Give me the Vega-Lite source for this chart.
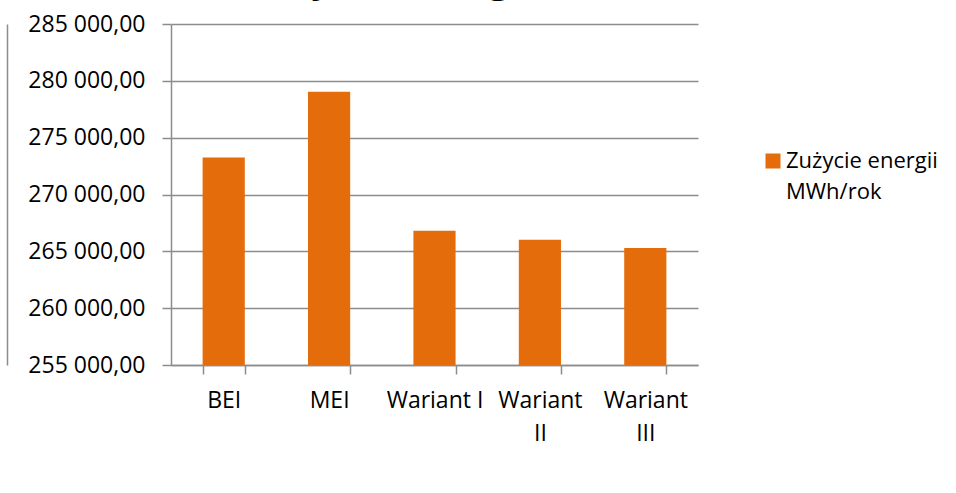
{
  "$schema": "https://vega.github.io/schema/vega-lite/v6.json",
  "width": 527,
  "height": 341,
  "autosize": {"type": "none"},
  "padding": {"left": 171, "top": 24, "right": 258, "bottom": 128},
  "background": "white",
  "config": {
    "locale": {"number": {"decimal": ",", "thousands": " ", "grouping": [3], "currency": ["", " zł"]}},
    "font": "Open Sans",
    "view": {"stroke": null},
    "style": {"guide-label": {"lineHeight": 31}},
    "axis": {
      "labelFont": "Open Sans",
      "labelFontSize": 23,
      "labelColor": "#000000",
      "domainColor": "#8c8c8c",
      "domainWidth": 1.5,
      "tickColor": "#8c8c8c",
      "tickWidth": 1.5,
      "gridColor": "#8c8c8c",
      "gridWidth": 1.5
    }
  },
  "title": {
    "text": "Zużycie energii",
    "font": "Open Sans",
    "fontSize": 39,
    "fontWeight": "bold",
    "color": "#000000",
    "anchor": "start",
    "dx": 237,
    "dy": 17.5,
    "offset": 0,
    "baseline": "alphabetic"
  },
  "data": {
    "values": [
      {"scenariusz": "BEI", "zuzycie": 273250, "seria": "Zużycie energii MWh/rok"},
      {"scenariusz": "MEI", "zuzycie": 279050, "seria": "Zużycie energii MWh/rok"},
      {"scenariusz": "Wariant I", "zuzycie": 266800, "seria": "Zużycie energii MWh/rok"},
      {"scenariusz": "Wariant II", "zuzycie": 266020, "seria": "Zużycie energii MWh/rok"},
      {"scenariusz": "Wariant III", "zuzycie": 265290, "seria": "Zużycie energii MWh/rok"}
    ]
  },
  "layer": [
    {
      "mark": {"type": "bar", "clip": true},
      "encoding": {
        "x": {
          "field": "scenariusz",
          "type": "nominal",
          "sort": null,
          "scale": {"paddingInner": 0.6, "paddingOuter": 0.3},
          "axis": {
            "title": null,
            "labelAngle": 0,
            "tickBand": "extent",
            "tickSize": 9,
            "labelPadding": 15,
            "labelBaseline": "top",
            "labelLineHeight": 33,
            "labelOverlap": false,
            "labelBound": false,
            "labelExpr": "datum.value == 'Wariant II' ? ['Wariant', 'II'] : datum.value == 'Wariant III' ? ['Wariant', 'III'] : datum.label"
          }
        },
        "y": {
          "field": "zuzycie",
          "type": "quantitative",
          "scale": {"domain": [255000, 285000], "zero": false, "nice": false},
          "axis": {
            "title": null,
            "values": [255000, 260000, 265000, 270000, 275000, 280000, 285000],
            "format": ",.2f",
            "tickSize": 9,
            "labelPadding": 17,
            "grid": true
          }
        },
        "color": {
          "field": "seria",
          "type": "nominal",
          "scale": {"range": ["#E46C0A"]},
          "legend": {
            "orient": "none",
            "legendX": 591,
            "legendY": 126,
            "padding": 0,
            "title": null,
            "symbolType": "square",
            "symbolSize": 225,
            "symbolStrokeWidth": 0,
            "labelFont": "Open Sans",
            "labelFontSize": 22,
            "labelColor": "#000000",
            "labelOffset": 2,
            "labelLimit": 400,
            "labelExpr": "['Zużycie energii', 'MWh/rok']"
          }
        }
      }
    },
    {
      "mark": {"type": "bar", "opacity": 0},
      "encoding": {
        "x": {"field": "scenariusz", "type": "nominal", "sort": null},
        "y": {
          "field": "zuzycie",
          "type": "quantitative",
          "axis": {
            "orient": "left",
            "offset": 164,
            "title": null,
            "labels": false,
            "ticks": false,
            "grid": false,
            "domainColor": "#8c8c8c",
            "domainWidth": 1.5
          }
        }
      }
    }
  ],
  "resolve": {"axis": {"y": "independent"}}
}
